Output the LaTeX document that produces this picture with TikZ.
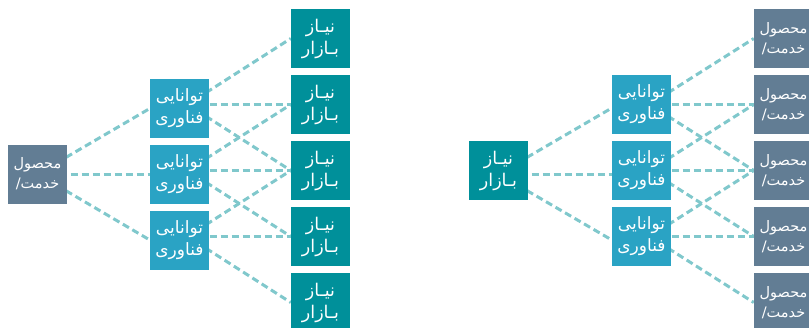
\documentclass[tikz,border=0pt]{standalone}
\usepackage{fontspec}
\TeXXeTstate=1
\newfontfamily\arabicfont[Script=Arabic]{DejaVu Sans}
\usetikzlibrary{backgrounds,calc}
\definecolor{slatec}{HTML}{627D94}
\definecolor{skyc}{HTML}{2AA3C4}
\definecolor{tealc}{HTML}{00909A}
\definecolor{linkc}{HTML}{80C8CC}
\newcommand\prodtxt{\beginR محصول\endR\\\beginR خدمت/\endR}
\newcommand\techtxt{\beginR توانایی\endR\\\beginR فناوری\endR}
\newcommand\needtxt{\beginR نیـاز\endR\\\beginR بـازار\endR}
\begin{document}
\begin{tikzpicture}[x=1pt,y=-1pt,
  box/.style={minimum width=59pt,minimum height=59pt,inner sep=0pt,text=white,align=center},
  prod/.style={box,fill=slatec,font=\arabicfont\fontsize{14.5}{20}\selectfont},
  tech/.style={box,fill=skyc,font=\arabicfont\fontsize{17}{22}\selectfont},
  need/.style={box,fill=tealc,font=\arabicfont\fontsize{17.5}{22}\selectfont},
  link/.style={draw=linkc,line width=3pt,dash pattern=on 7pt off 4pt}]
\useasboundingbox (0,0) rectangle (809,327);
% left diagram
\node[prod] (L) at (37.5,174) {\prodtxt};
\node[tech] (M1) at (179.5,108.5) {\techtxt};
\node[tech] (M2) at (179.5,174) {\techtxt};
\node[tech] (M3) at (179.5,240) {\techtxt};
\foreach \i/\y in {1/38.5,2/104.5,3/170.5,4/236.5,5/302.5}{
  \node[need] (R\i) at (320.5,\y) {\needtxt};
}
% right diagram
\node[need] (N) at (498.5,170.5) {\needtxt};
\node[tech] (Q1) at (641.5,104.5) {\techtxt};
\node[tech] (Q2) at (641.5,170.5) {\techtxt};
\node[tech] (Q3) at (641.5,236.5) {\techtxt};
\foreach \i/\y in {1/38.5,2/104.5,3/170.5,4/236.5,5/302.5}{
  \node[prod] (P\i) at (783.5,\y) {\prodtxt};
}
\begin{scope}[on background layer]
  % left
  \draw[link] (L.center) -- (M1.west);
  \draw[link] (L.center) -- (M2.west);
  \draw[link] (L.center) -- (M3.west);
  \draw[link] ($(M1.center |- R2.west)+(8,0)$) -- (R1.west);
  \draw[link] ($(M1.center |- R2.west)+(8,0)$) -- (R2.west);
  \draw[link] ($(M1.center |- R2.west)+(8,0)$) -- (R3.west);
  \draw[link] ($(M2.center |- R3.west)+(8,0)$) -- (R2.west);
  \draw[link] ($(M2.center |- R3.west)+(8,0)$) -- (R3.west);
  \draw[link] ($(M2.center |- R3.west)+(8,0)$) -- (R4.west);
  \draw[link] ($(M3.center |- R4.west)+(8,0)$) -- (R3.west);
  \draw[link] ($(M3.center |- R4.west)+(8,0)$) -- (R4.west);
  \draw[link] ($(M3.center |- R4.west)+(8,0)$) -- (R5.west);
  % right
  \draw[link] ($(N.center)+(0,3.5)$) -- ($(Q1.west)+(0,3.5)$);
  \draw[link] ($(N.center)+(0,3.5)$) -- ($(Q2.west)+(0,3.5)$);
  \draw[link] ($(N.center)+(0,3.5)$) -- ($(Q3.west)+(0,3.5)$);
  \draw[link] ($(Q1.center |- P2.west)+(8,0)$) -- (P1.west);
  \draw[link] ($(Q1.center |- P2.west)+(8,0)$) -- (P2.west);
  \draw[link] ($(Q1.center |- P2.west)+(8,0)$) -- (P3.west);
  \draw[link] ($(Q2.center |- P3.west)+(8,0)$) -- (P2.west);
  \draw[link] ($(Q2.center |- P3.west)+(8,0)$) -- (P3.west);
  \draw[link] ($(Q2.center |- P3.west)+(8,0)$) -- (P4.west);
  \draw[link] ($(Q3.center |- P4.west)+(8,0)$) -- (P3.west);
  \draw[link] ($(Q3.center |- P4.west)+(8,0)$) -- (P4.west);
  \draw[link] ($(Q3.center |- P4.west)+(8,0)$) -- (P5.west);
\end{scope}
\end{tikzpicture}
\end{document}
